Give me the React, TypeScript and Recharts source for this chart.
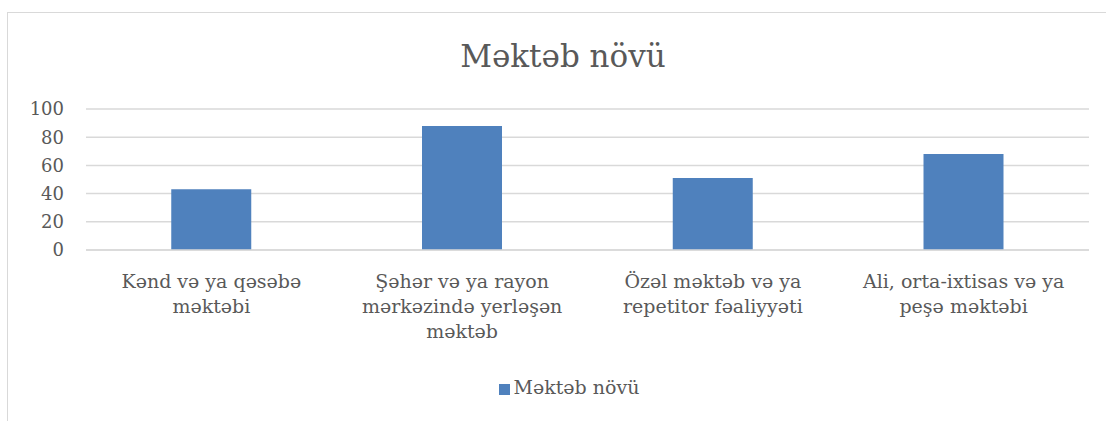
import React from 'react'
import { BarChart, Bar, XAxis, YAxis, CartesianGrid, Legend } from 'recharts'

const categories = [
  'Kənd və ya qəsəbə\nməktəbi',
  'Şəhər və ya rayon\nmərkəzində yerləşən\nməktəb',
  'Özəl məktəb və ya\nrepetitor fəaliyyəti',
  'Ali, orta-ixtisas və ya\npeşə məktəbi'
]
const values = [43, 88, 51, 68]
const yTicks = [0, 20, 40, 60, 80, 100]
const seriesName = 'Məktəb növü'
const title = 'Məktəb növü'

const FONT = '"DejaVu Serif", serif'
const TEXT = '#595959'

const data = categories.map((c, i) => ({ name: c, value: values[i] }))

function CategoryTick(props: any) {
  const { x, y, payload } = props
  const lines = String(payload.value).split('\n')
  return (
    <text x={x} y={y} textAnchor="middle" fill={TEXT} fontFamily={FONT} fontSize={19}>
      {lines.map((l, i) => (
        <tspan key={i} x={x} dy={i === 0 ? 30 : 25}>{l}</tspan>
      ))}
    </text>
  )
}

export default function App() {
  return (
    <div style={{ position: 'absolute', left: 0, top: 0, width: 1106, height: 421, background: '#fff', overflow: 'hidden' }}>
      <div style={{ position: 'absolute', left: 7, top: 12, width: 1200, height: 500, border: '1px solid #d9d9d9' }} />
      <div style={{ position: 'absolute', left: 0, top: 38, width: 1126, textAlign: 'center', fontFamily: FONT, fontSize: 31, color: TEXT }}>
        {title}
      </div>
      <div style={{ position: 'absolute', left: 0, top: 0 }}>
        <BarChart width={1106} height={421} data={data} margin={{ top: 109, right: 17, left: 0, bottom: 69 }} barCategoryGap="34%">
          <CartesianGrid vertical={false} stroke="#d9d9d9" strokeWidth={1.5} />
          <XAxis dataKey="name" tick={<CategoryTick />} tickLine={false} axisLine={{ stroke: '#d9d9d9', strokeWidth: 1.5 }} interval={0} height={80} />
          <YAxis domain={[0, 100]} ticks={yTicks} interval={0} width={86} tickLine={false} axisLine={false}
            tick={{ fill: TEXT, fontFamily: FONT, fontSize: 18, dx: -14 }} />
          <Legend verticalAlign="bottom" iconType="square" iconSize={11}
            wrapperStyle={{ top: 376, left: 21, width: 1106, fontFamily: FONT, fontSize: 19 }}
            formatter={(v: any) => <span style={{ color: TEXT }}>{v}</span>} />
          <Bar dataKey="value" name={seriesName} fill="#4f81bd" isAnimationActive={false} />
        </BarChart>
      </div>
    </div>
  )
}
